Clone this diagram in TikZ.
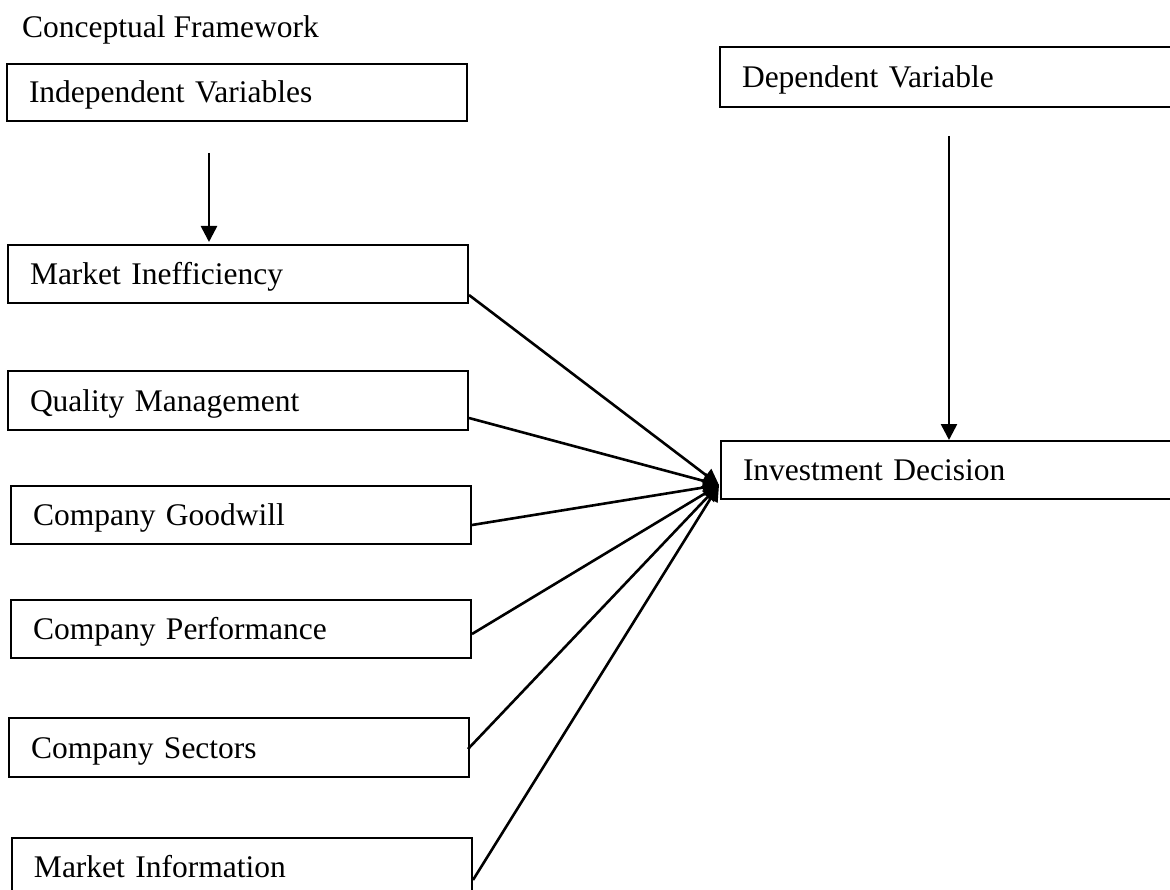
\documentclass[tikz,border=0pt]{standalone}
\usepackage{fontspec}
\setmainfont{Liberation Serif}
\usetikzlibrary{arrows.meta}
\begin{document}
\begin{tikzpicture}[x=1pt,y=-1pt,
  every node/.style={font=\fontsize{31.5pt}{38pt}\selectfont},
  varbox/.style={draw=black,line width=2pt,rectangle,minimum height=58pt,
    inner xsep=22pt,inner ysep=0pt,text width=416pt,align=left,
    text height=21pt,text depth=0pt},
  conn/.style={line width=2.6pt,-{Triangle[length=16pt,width=16pt]}}]
\useasboundingbox (0,0) rectangle (1170,890);
\node[anchor=base west,inner sep=0pt] (title) at (22,38) {Conceptual Framework};
\node[varbox,minimum height=57pt] (indep) at (237,92.5) {Independent Variables};
\node[varbox] (mi) at (238,274) {Market Inefficiency};
\node[varbox,minimum height=59pt] (qm) at (238,400.5) {Quality Management};
\node[varbox] (cg) at (241,515) {Company Goodwill};
\node[varbox] (cp) at (241,629) {Company Performance};
\node[varbox,minimum height=59pt] (cs) at (239,747.5) {Company Sectors};
\node[varbox] (minfo) at (242,867) {Market Information};
\node[varbox,minimum height=60pt,text width=426pt] (dv) at (955,77) {Dependent Variable};
\node[varbox,text width=426pt] (id) at (956,470) {Investment Decision};
\coordinate (tgt) at ([yshift=15pt,xshift=-1pt]id.south west);
\draw[conn] ([xshift=-28pt,yshift=-31pt]indep.south) -- ([xshift=-29pt,yshift=2pt]mi.north);
\draw[conn] ([xshift=-6pt,yshift=-28pt]dv.south) -- ([xshift=-7pt]id.north);
\draw[conn] ([yshift=9pt]mi.south east) -- (tgt);
\draw[conn] ([yshift=13pt]qm.south east) -- (tgt);
\draw[conn] ([yshift=20pt]cg.south east) -- (tgt);
\draw[conn] ([yshift=25pt]cp.south east) -- (tgt);
\draw[conn] ([xshift=-2pt,yshift=29pt]cs.south east) -- (tgt);
\draw[conn] ([yshift=17pt]minfo.south east) -- (tgt);
\end{tikzpicture}
\end{document}
